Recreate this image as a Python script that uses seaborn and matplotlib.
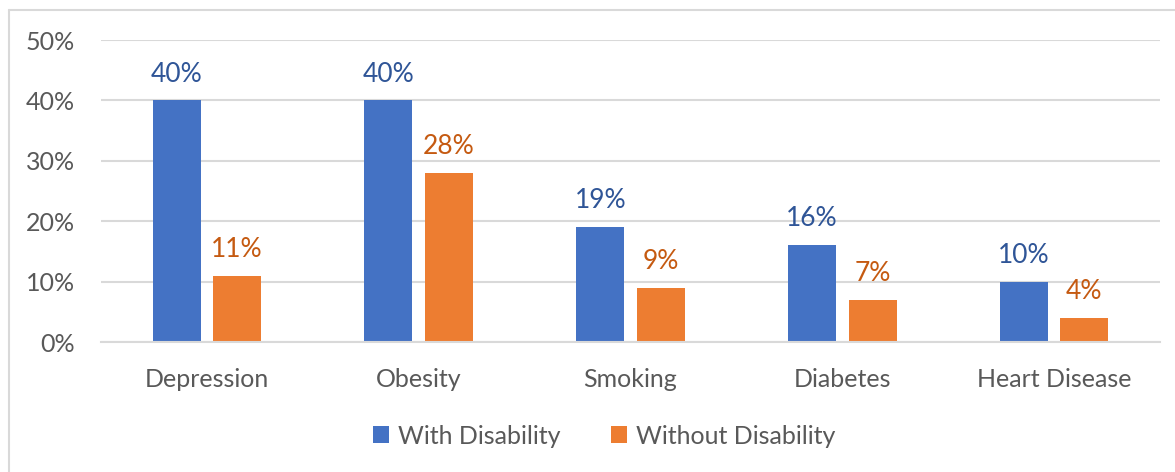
import matplotlib
matplotlib.use("Agg")
import matplotlib.pyplot as plt
from matplotlib.lines import Line2D
from matplotlib.ticker import FuncFormatter
import seaborn as sns
import pandas as pd

categories = ["Depression", "Obesity", "Smoking", "Diabetes", "Heart Disease"]
with_disability = [40, 40, 19, 16, 10]
without_disability = [11, 28, 9, 7, 4]
series_names = ["With Disability", "Without Disability"]
y_ticks = [0, 10, 20, 30, 40, 50]

bar_colors = ["#4472C4", "#ED7D31"]
label_colors = ["#2F5597", "#C55A11"]
text_gray = "#595959"
grid_gray = "#D9D9D9"

df = pd.DataFrame({
    "Condition": categories * 2,
    "Group": [series_names[0]] * len(categories) + [series_names[1]] * len(categories),
    "Percent": with_disability + without_disability,
})

sns.set_theme(style="white")
plt.rcParams["font.family"] = ["Lato", "DejaVu Sans"]

fig = plt.figure(figsize=(11.75, 4.72), dpi=100)
ax = fig.add_axes([101 / 1175, 1 - 342 / 472, (1160 - 101) / 1175, (342 - 40) / 472])

sns.barplot(data=df, x="Condition", y="Percent", hue="Group",
            palette=bar_colors, width=0.571, gap=0.206, saturation=1,
            linewidth=0, errorbar=None, ax=ax, order=categories,
            hue_order=series_names)

for cont, col in zip(ax.containers, label_colors):
    ax.bar_label(cont, fmt="%d%%", padding=10, color=col, fontsize=19)

ax.set_ylim(0, 50)
ax.set_yticks(y_ticks)
ax.yaxis.set_major_formatter(FuncFormatter(lambda v, _: f"{v:.0f}%"))
ax.set_xlim(-0.5, len(categories) - 0.5)
ax.grid(axis="y", color=grid_gray, linewidth=1.5)
ax.set_axisbelow(True)
for side in ["top", "right", "left"]:
    ax.spines[side].set_visible(False)
ax.spines["bottom"].set_color(grid_gray)
ax.spines["bottom"].set_linewidth(1.5)
ax.set_xlabel("")
ax.set_ylabel("")
ax.tick_params(axis="x", length=0, pad=19, labelsize=18, labelcolor=text_gray)
ax.tick_params(axis="y", length=0, pad=19, labelsize=18, labelcolor=text_gray)

handles, labels = ax.get_legend_handles_labels()
ax.legend_.remove()
fig.legend(handles, labels, loc="center", bbox_to_anchor=(604 / 1175, 1 - 436 / 472),
           ncol=2, frameon=False, fontsize=18, labelcolor=text_gray,
           handlelength=0.65, handleheight=0.65, handletextpad=0.35,
           columnspacing=2.0)

# light frame around the chart area
bx = 9 / 1175
by = 1 - 9.5 / 472
fig.add_artist(Line2D([bx, bx], [0, by], transform=fig.transFigure,
                      color=grid_gray, linewidth=1.5))
fig.add_artist(Line2D([bx, 1], [by, by], transform=fig.transFigure,
                      color=grid_gray, linewidth=1.5))

fig.savefig("out.png", dpi=100)
